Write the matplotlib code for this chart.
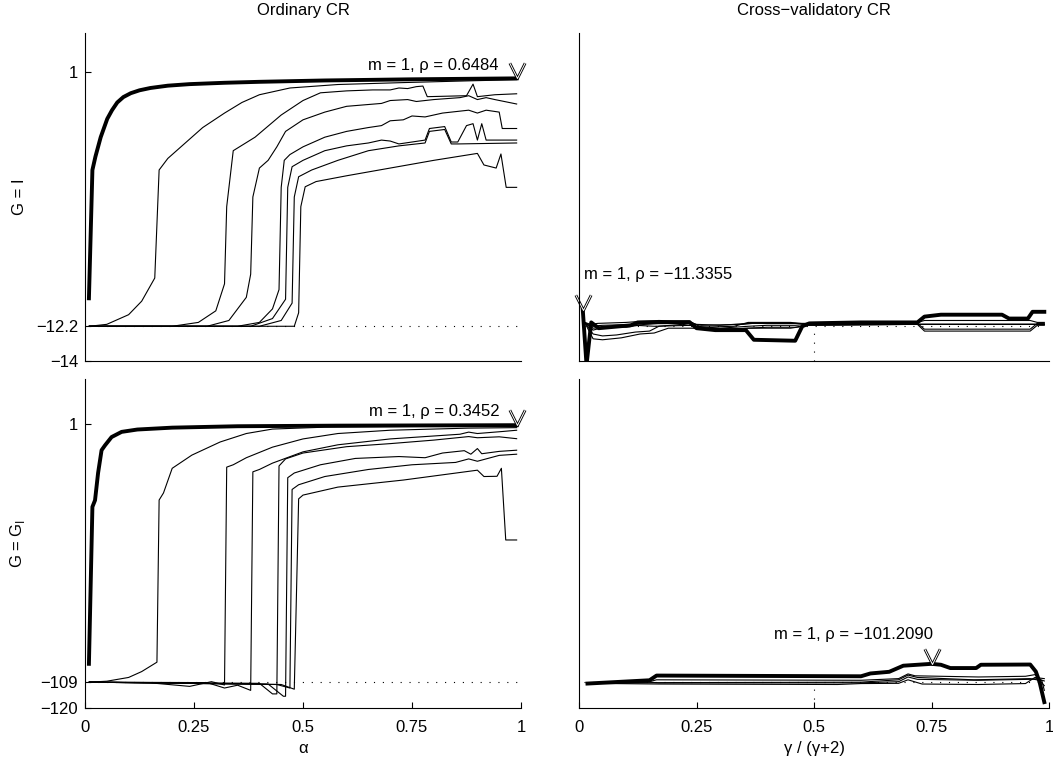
import numpy as np
import matplotlib
matplotlib.use('Agg')
import matplotlib.pyplot as plt
from matplotlib.path import Path

plt.rcParams['font.family'] = ['Liberation Sans', 'DejaVu Sans']
plt.rcParams['mathtext.fontset'] = 'custom'
plt.rcParams['mathtext.rm'] = 'Liberation Sans'

# ---- top-left: ordinary CR, G = I -------------------------------------
tl_thick_x = [0.009, 0.017, 0.024, 0.036, 0.051, 0.062, 0.074, 0.088, 0.105, 0.125,
              0.15, 0.19, 0.24, 0.32, 0.40, 0.55, 0.75, 0.99]
tl_thick_y = [-10.75, -4.1, -3.4, -2.4, -1.45, -1.0, -0.6, -0.32, -0.12, 0.03,
              0.15, 0.27, 0.35, 0.42, 0.47, 0.54, 0.60, 0.6484]
tl_thin = [
    ([0.01, 0.05, 0.10, 0.13, 0.16, 0.17, 0.19, 0.21, 0.27, 0.32, 0.36, 0.40, 0.47,
      0.58, 0.73, 0.88, 0.99],
     [-12.2, -12.1, -11.6, -10.9, -9.7, -4.1, -3.5, -3.1, -1.9, -1.15, -0.6, -0.2, 0.15,
      0.33, 0.43, 0.52, 0.58]),
    ([0.01, 0.20, 0.26, 0.30, 0.32, 0.325, 0.34, 0.39, 0.45, 0.50, 0.54, 0.60, 0.66,
      0.70, 0.72, 0.74, 0.76, 0.775, 0.785, 0.875, 0.89, 0.90, 0.94, 0.99],
     [-12.2, -12.2, -12.0, -11.4, -10.0, -6.0, -3.1, -2.4, -1.25, -0.5, -0.1, 0.0, 0.05,
      0.05, 0.15, 0.12, 0.22, 0.25, -0.3, -0.25, 0.35, -0.3, -0.2, -0.15]),
    ([0.01, 0.28, 0.33, 0.37, 0.38, 0.385, 0.40, 0.42, 0.44, 0.46, 0.50, 0.55, 0.60,
      0.68, 0.70, 0.74, 0.76, 0.80, 0.86, 0.88, 0.90, 0.92, 0.94, 0.99],
     [-12.2, -12.2, -11.9, -10.7, -9.5, -5.5, -4.0, -3.6, -2.9, -2.1, -1.5, -1.1, -0.8,
      -0.65, -0.5, -0.45, -0.55, -0.45, -0.35, -0.25, -0.45, -0.35, -0.45, -0.68]),
    ([0.01, 0.35, 0.40, 0.43, 0.445, 0.45, 0.457, 0.47, 0.50, 0.55, 0.60, 0.65, 0.68,
      0.70, 0.73, 0.75, 0.78, 0.82, 0.86, 0.88, 0.90, 0.92, 0.95, 0.957, 0.99],
     [-12.2, -12.2, -12.0, -11.3, -10.3, -5.0, -3.6, -3.3, -2.9, -2.4, -2.1, -1.9, -1.8,
      -1.55, -1.5, -1.3, -1.35, -1.15, -1.05, -1.0, -1.15, -1.0, -1.1, -1.95, -1.95]),
    ([0.01, 0.38, 0.43, 0.46, 0.465, 0.475, 0.50, 0.55, 0.60, 0.65, 0.68, 0.70, 0.72,
      0.78, 0.79, 0.825, 0.84, 0.855, 0.875, 0.89, 0.90, 0.91, 0.92, 0.99],
     [-12.2, -12.2, -11.8, -10.8, -5.0, -3.93, -3.6, -3.1, -2.85, -2.7, -2.55, -2.6, -2.75,
      -2.55, -1.95, -1.85, -2.65, -2.65, -1.8, -1.7, -2.55, -1.7, -2.55, -2.55]),
    ([0.01, 0.40, 0.45, 0.475, 0.48, 0.49, 0.52, 0.58, 0.65, 0.72, 0.78, 0.79, 0.825,
      0.84, 0.855, 0.99],
     [-12.2, -12.2, -11.9, -11.0, -5.5, -4.45, -4.1, -3.6, -3.1, -2.85, -2.7, -2.1, -2.0,
      -2.75, -2.75, -2.7]),
    ([0.01, 0.45, 0.48, 0.49, 0.495, 0.505, 0.53, 0.60, 0.70, 0.80, 0.90, 0.915, 0.943,
      0.954, 0.966, 0.99],
     [-12.2, -12.2, -12.2, -11.5, -6.0, -4.97, -4.7, -4.4, -4.0, -3.6, -3.24, -3.84, -4.0,
      -3.27, -5.0, -5.0]),
]

# ---- bottom-left: ordinary CR, G = G_I --------------------------------
bl_thick_x = [0.009, 0.017, 0.023, 0.030, 0.038, 0.046, 0.061, 0.084, 0.12, 0.2,
              0.35, 0.58, 0.99]
bl_thick_y = [-101.2, -34.4, -31.6, -20.0, -10.3, -8.2, -4.7, -2.5, -1.5, -0.7,
              -0.1, 0.15, 0.3452]
bl_thin = [
    ([0.01, 0.05, 0.10, 0.13, 0.165, 0.17, 0.18, 0.20, 0.245, 0.31, 0.37, 0.43, 0.55,
      0.75, 0.99],
     [-109, -108.6, -107, -104.5, -100.5, -31.5, -28.5, -18, -12.4, -6.8, -3.2, -1.3,
      -0.5, -0.2, 0.0]),
    ([0.01, 0.15, 0.24, 0.29, 0.32, 0.325, 0.34, 0.37, 0.43, 0.50, 0.58, 0.70, 0.78,
      0.88, 0.99],
     [-109, -109.3, -110.8, -108.8, -110.2, -17.5, -16.5, -13.5, -9.0, -5.5, -3.2, -1.8,
      -1.4, -0.9, -0.7]),
    ([0.01, 0.28, 0.32, 0.35, 0.38, 0.385, 0.40, 0.43, 0.50, 0.58, 0.70, 0.78, 0.86,
      0.88, 0.90, 0.96, 0.99],
     [-109, -109.2, -111.5, -110.3, -112.5, -19.5, -18.5, -15.8, -11.0, -8.0, -5.5, -4.5,
      -3.5, -2.6, -3.2, -2.3, -1.8]),
    ([0.01, 0.40, 0.43, 0.44, 0.445, 0.46, 0.50, 0.60, 0.70, 0.80, 0.88, 0.90, 0.95,
      0.99],
     [-109, -109.5, -114, -114, -17, -14, -11.5, -8.8, -7.5, -6.0, -4.5, -5.0, -4.6,
      -5.4]),
    ([0.01, 0.42, 0.455, 0.46, 0.465, 0.48, 0.54, 0.62, 0.72, 0.78, 0.82, 0.87, 0.885,
      0.90, 0.91, 0.95, 0.99],
     [-109, -109.8, -115, -115, -22, -20, -16.5, -13.8, -13.0, -13.5, -11.5, -10.5, -12.0,
      -9.6, -11.8, -10.8, -10.3]),
    ([0.01, 0.44, 0.47, 0.475, 0.49, 0.55, 0.65, 0.75, 0.85, 0.88, 0.90, 0.95, 0.99],
     [-109, -110, -111.5, -27, -25, -21.5, -18.5, -16.5, -15.5, -14, -15, -12.5, -12.0]),
    ([0.01, 0.45, 0.48, 0.49, 0.50, 0.58, 0.73, 0.90, 0.915, 0.945, 0.955, 0.965, 0.99],
     [-109, -110, -112, -31, -29.4, -26, -23, -18.8, -21.5, -21.4, -18, -48.5, -48.5]),
]

# ---- top-right: cross-validatory CR, G = I ----------------------------
tr_thick_x = [0.008, 0.016, 0.026, 0.042, 0.11, 0.125, 0.235, 0.25, 0.29, 0.355,
              0.372, 0.46, 0.475, 0.49, 0.60, 0.72, 0.735, 0.77, 0.90, 0.915,
              0.955, 0.965, 0.99]
tr_thick_y = [-11.3355, -14.2, -12.0, -12.3, -12.15, -12.0, -11.98, -12.3, -12.4, -12.4,
              -12.9, -12.95, -12.2, -12.05, -12.0, -12.0, -11.7, -11.6, -11.6, -11.8,
              -11.8, -11.45, -11.45]
tr_thin = [
    ([0.012, 0.025, 0.04, 0.10, 0.13, 0.17, 0.23, 0.25, 0.30, 0.36, 0.46, 0.49, 0.72,
      0.735, 0.96, 0.975, 0.99],
     [-12.0, -12.1, -12.05, -12.0, -11.95, -11.9, -11.95, -12.1, -12.15, -12.05, -12.05,
      -12.05, -12.0, -11.9, -11.9, -12.0, -12.0]),
    ([0.012, 0.03, 0.05, 0.08, 0.12, 0.15, 0.17, 0.22, 0.25, 0.30, 0.36, 0.40, 0.46,
      0.49, 0.72, 0.735, 0.96, 0.975, 0.99],
     [-12.0, -12.6, -12.7, -12.65, -12.5, -12.45, -12.2, -12.1, -12.2, -12.3, -12.2,
      -12.15, -12.15, -12.1, -12.05, -12.35, -12.35, -12.05, -12.05]),
    ([0.012, 0.03, 0.05, 0.09, 0.13, 0.16, 0.19, 0.24, 0.30, 0.36, 0.40, 0.46, 0.49,
      0.72, 0.99],
     [-12.0, -12.85, -12.9, -12.8, -12.6, -12.55, -12.3, -12.3, -12.35, -12.3, -12.25,
      -12.25, -12.15, -12.1, -12.1]),
    ([0.012, 0.03, 0.06, 0.10, 0.14, 0.17, 0.20, 0.24, 0.26, 0.33, 0.36, 0.45, 0.49,
      0.99],
     [-12.0, -12.4, -12.2, -12.25, -12.1, -12.05, -12.0, -12.0, -12.25, -12.2, -12.0,
      -12.0, -12.1, -12.1]),
    ([0.012, 0.03, 0.08, 0.12, 0.16, 0.24, 0.26, 0.33, 0.36, 0.45, 0.49, 0.72, 0.735,
      0.96, 0.975, 0.99],
     [-12.0, -12.3, -12.2, -12.15, -12.2, -12.15, -12.3, -12.35, -12.3, -12.3, -12.15,
      -12.1, -12.45, -12.45, -12.15, -12.15]),
    ([0.012, 0.025, 0.05, 0.12, 0.16, 0.23, 0.26, 0.35, 0.37, 0.46, 0.49, 0.99],
     [-12.0, -12.2, -12.15, -12.1, -12.05, -12.05, -12.15, -12.1, -12.05, -12.05, -12.1,
      -12.1]),
]

# ---- bottom-right: cross-validatory CR, G = G_I -----------------------
br_thick_x = [0.018, 0.15, 0.165, 0.60, 0.62, 0.66, 0.69, 0.75, 0.77, 0.79, 0.845,
              0.855, 0.96, 0.972, 0.98, 0.99]
br_thick_y = [-109.6, -108.2, -106.2, -106.5, -105.3, -104.6, -102.0, -101.209, -101.6,
              -103.0, -103.0, -101.6, -101.5, -104.5, -109.0, -117.5]
br_thin = [
    ([0.018, 0.15, 0.165, 0.60, 0.68, 0.70, 0.715, 0.85, 0.95, 0.97, 0.985, 0.99],
     [-109.5, -108.8, -108.0, -108.2, -107.5, -105.5, -106.3, -106.8, -106.5, -105.8,
      -108.5, -112.5]),
    ([0.018, 0.15, 0.17, 0.60, 0.68, 0.70, 0.72, 0.85, 0.96, 0.975, 0.99],
     [-109.5, -109.0, -109.3, -109.3, -108.8, -106.8, -107.8, -108.2, -107.8, -107.5,
      -108.5]),
    ([0.018, 0.17, 0.55, 0.60, 0.68, 0.70, 0.73, 0.85, 0.95, 0.97, 0.99],
     [-109.5, -109.8, -110.0, -109.6, -109.5, -108.0, -109.8, -110.0, -109.6, -107.0,
      -107.5]),
    ([0.018, 0.20, 0.60, 0.68, 0.70, 0.72, 0.84, 0.96, 0.98, 0.99],
     [-109.5, -109.2, -109.0, -108.0, -106.0, -107.0, -108.0, -107.5, -108.2, -110.5]),
]

ylims = [(-14, 3), (-120, 20)]
yticks = [[-14, -12.2, 1], [-120, -109, 1]]
ytick_labels = [['\u221214', '\u221212.2', '1'], ['\u2212120', '\u2212109', '1']]
baselines = [-12.2, -109]
xticks = [0, 0.25, 0.5, 0.75, 1]
xtick_labels = ['0', '0.25', '0.5', '0.75', '1']

# V marker, tip at the data point
vee = Path([(-0.5, 1.0), (0.0, 0.0), (0.5, 1.0)], [Path.MOVETO, Path.LINETO, Path.LINETO])


def draw_panel(ax, thick_x, thick_y, thin, row, right):
    base = baselines[row]
    ax.plot([0.01, 0.99], [base, base], color='k', lw=0.8, ls=(0, (1, 7)))
    if right:
        ax.plot([0.5, 0.5], [ylims[row][0], base], color='k', lw=0.8, ls=(0, (1, 7)))
    for xs, ys in thin:
        ax.plot(xs, ys, color='k', lw=0.8)
    ax.plot(thick_x, thick_y, color='k', lw=2.8, solid_joinstyle='round')
    k = int(np.argmax(thick_y))
    ax.plot(thick_x[k], thick_y[k], ls='none', marker=vee, ms=22, mec='k', mew=2.0,
            mfc='none', clip_on=False)
    ax.plot(thick_x[k], thick_y[k], ls='none', marker=vee, ms=22, mec='w', mew=0.7,
            mfc='none', clip_on=False)
    return thick_x[k], thick_y[k]


fig = plt.figure(figsize=(10.53, 7.61), dpi=100)
rects = {
    (0, 0): [85 / 1053, 1 - 361 / 761, 436 / 1053, 328 / 761],
    (0, 1): [579 / 1053, 1 - 361 / 761, 470 / 1053, 328 / 761],
    (1, 0): [85 / 1053, 1 - 708 / 761, 436 / 1053, 329 / 761],
    (1, 1): [579 / 1053, 1 - 708 / 761, 470 / 1053, 329 / 761],
}
data = {
    (0, 0): (tl_thick_x, tl_thick_y, tl_thin),
    (0, 1): (tr_thick_x, tr_thick_y, tr_thin),
    (1, 0): (bl_thick_x, bl_thick_y, bl_thin),
    (1, 1): (br_thick_x, br_thick_y, br_thin),
}
labels = {
    (0, 0): ('m = 1, \u03c1 = 0.6484', (-13, 9), 'right'),
    (0, 1): ('m = 1, \u03c1 = \u221211.3355', (1, 25), 'left'),
    (1, 0): ('m = 1, \u03c1 = 0.3452', (-12, 10), 'right'),
    (1, 1): ('m = 1, \u03c1 = \u2212101.2090', (1, 21), 'right'),
}

for (row, col), rect in rects.items():
    ax = fig.add_axes(rect)
    tx, ty, thin = data[(row, col)]
    px, py = draw_panel(ax, tx, ty, thin, row, col == 1)
    text, off, ha = labels[(row, col)]
    ax.annotate(text, (px, py), xytext=off, textcoords='offset points', ha=ha,
                va='center', fontsize=12, annotation_clip=False)

    ax.set_xlim(0, 1)
    ax.set_ylim(*ylims[row])
    for s in ['top', 'right']:
        ax.spines[s].set_visible(False)
    for s in ['left', 'bottom']:
        ax.spines[s].set_linewidth(0.8)
    ax.tick_params(direction='in', length=4, width=0.8, labelsize=12)
    ax.tick_params(axis='y', pad=5)
    ax.tick_params(axis='x', pad=9)

    if col == 0:
        ax.set_yticks(yticks[row])
        ax.set_yticklabels(ytick_labels[row])
    else:
        ax.set_yticks([])
    if row == 1:
        ax.set_xticks(xticks)
        ax.set_xticklabels(xtick_labels)
    else:
        ax.set_xticks([])

    if row == 0:
        ax.set_title(['Ordinary CR', 'Cross\u2212validatory CR'][col], fontsize=12, pad=13)
    else:
        ax.set_xlabel(['\u03b1', '\u03b3 / (\u03b3+2)'][col], fontsize=12, labelpad=4)
    if col == 0:
        ax.set_ylabel(['G = I', r'G = G$_{\mathregular{I}}$'][row], fontsize=12)
        ax.yaxis.set_label_coords(-0.132, 0.5)

fig.savefig('out.png', dpi=100)
